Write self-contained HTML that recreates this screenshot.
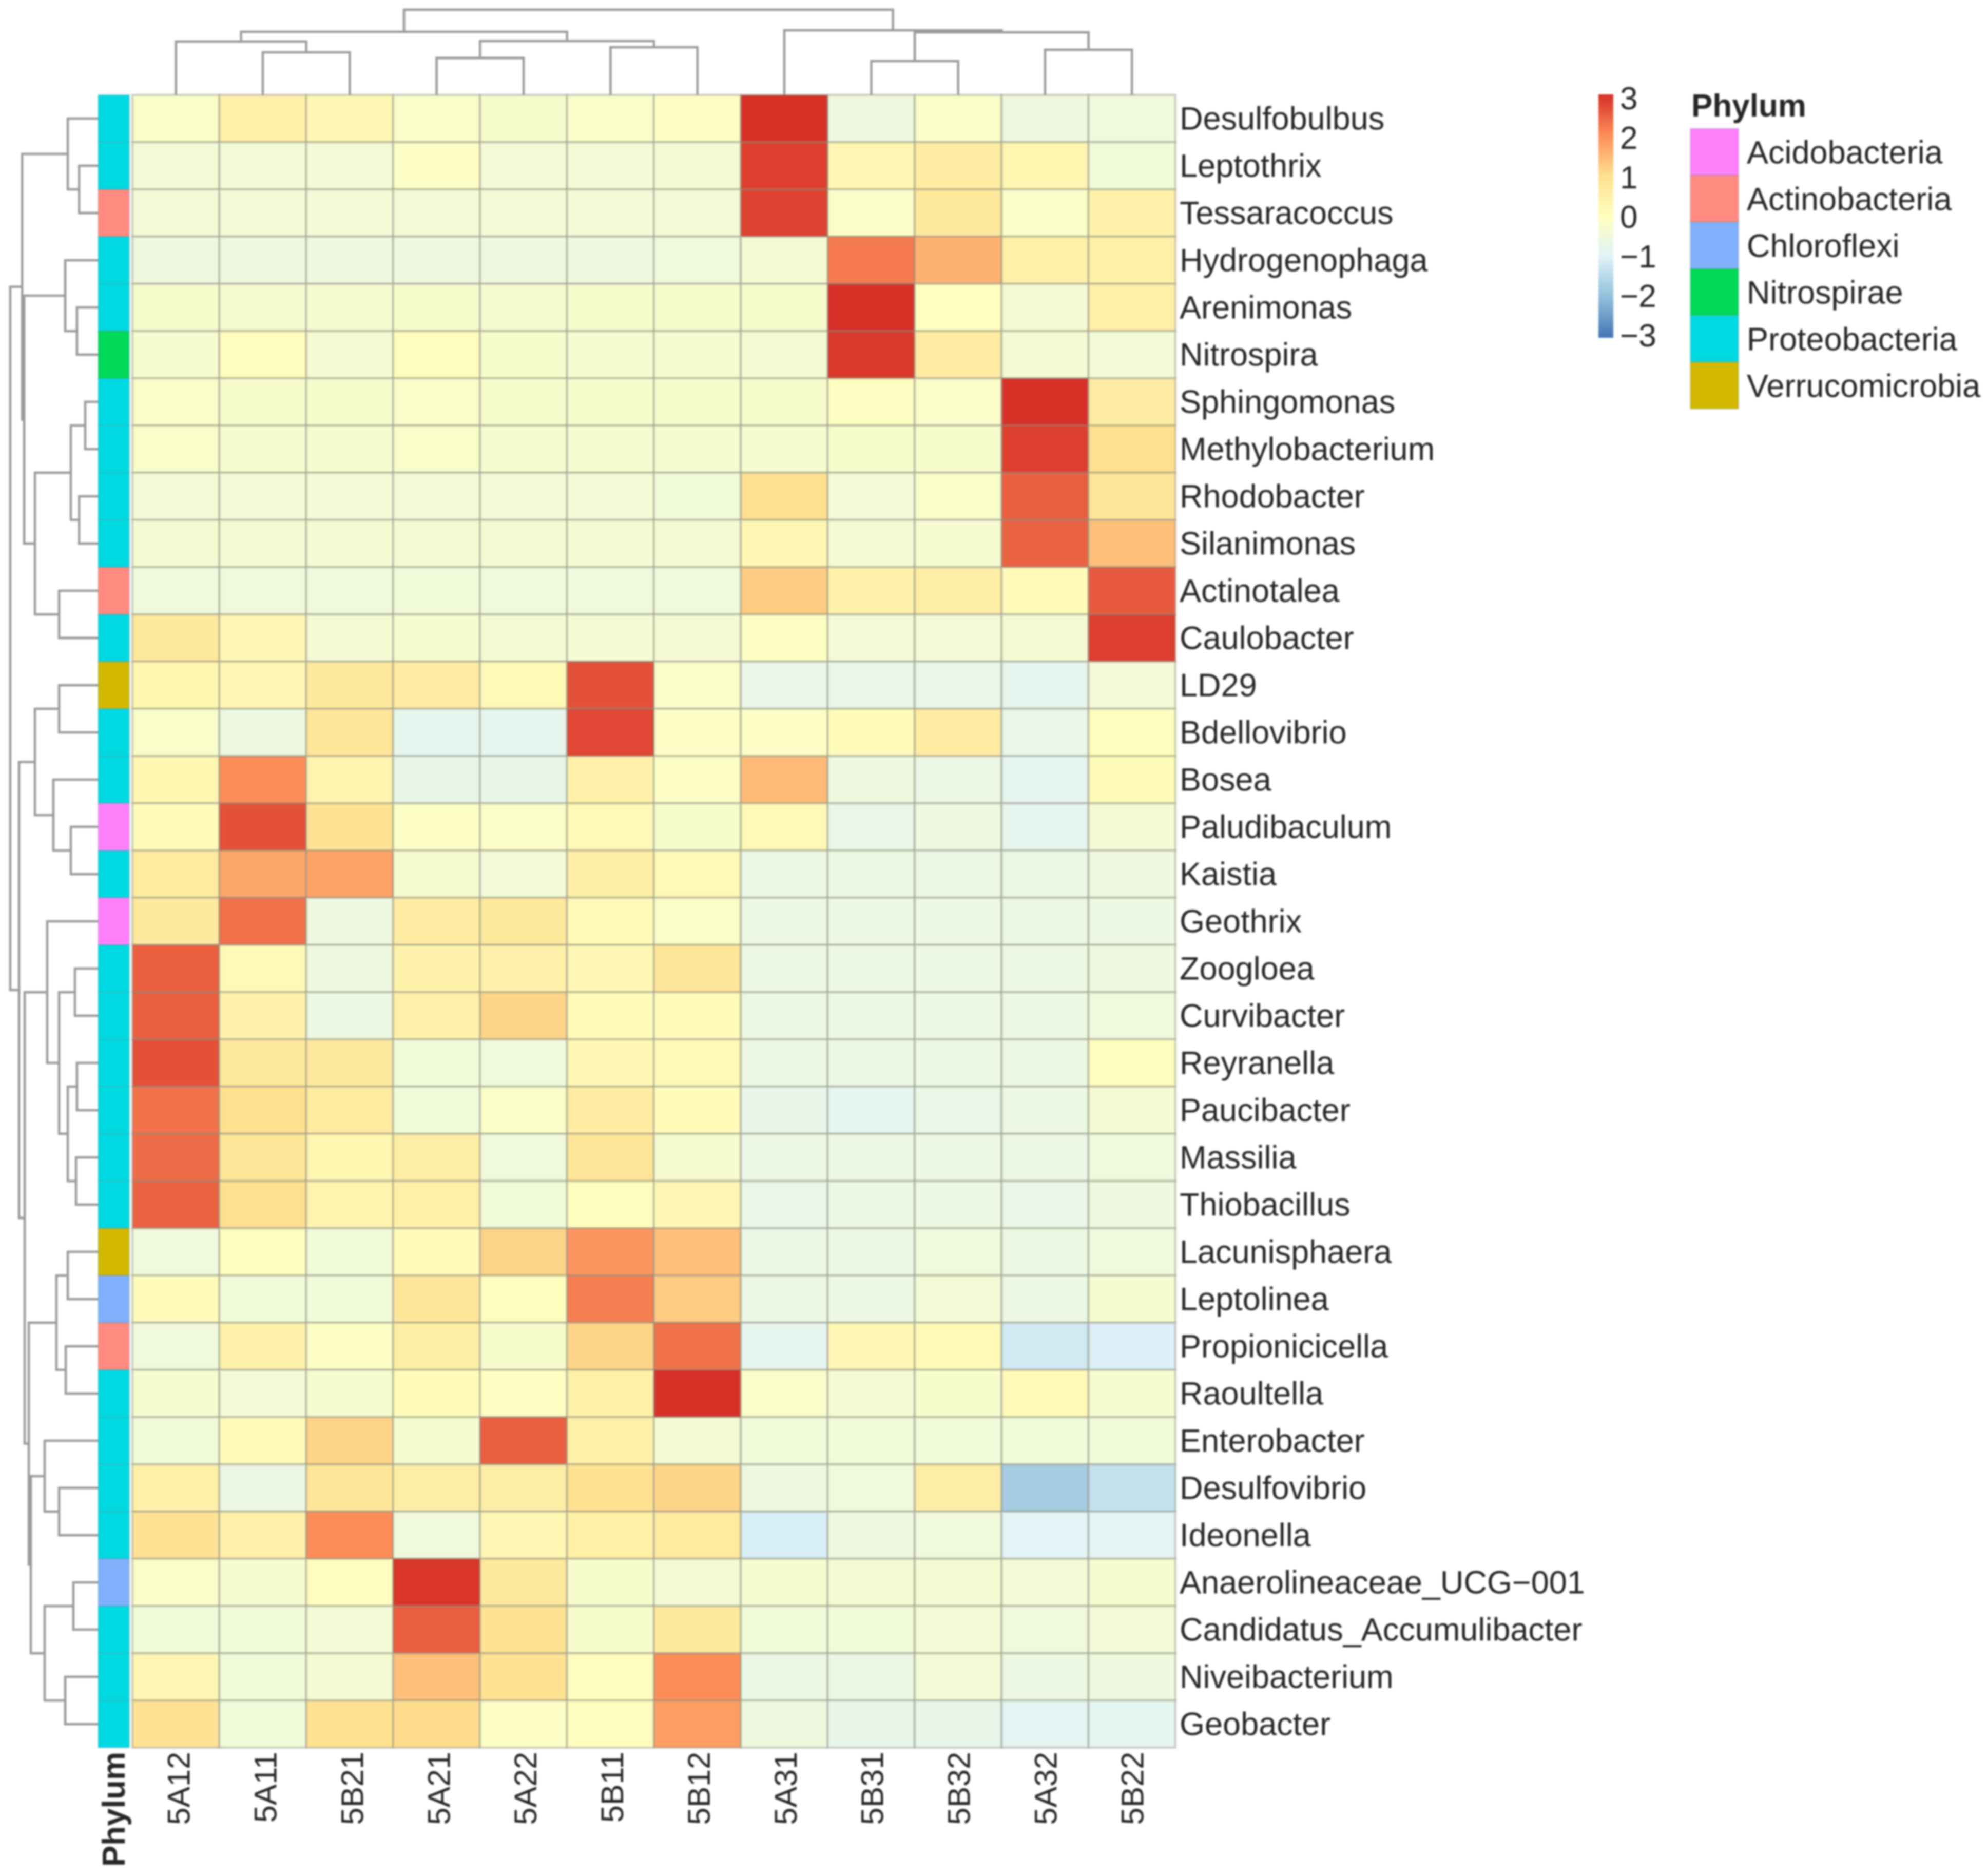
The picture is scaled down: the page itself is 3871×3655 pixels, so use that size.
<!DOCTYPE html>
<html lang="en">
<head>
<meta charset="utf-8">
<title>Genus abundance heatmap by phylum</title>
<style>
html,body{margin:0;padding:0;background:#fff;}
svg{display:block;filter:blur(1.5px);}
text{font-family:"Liberation Sans",Arial,sans-serif;fill:#262626;}
</style>
</head>
<body>
<svg id="chart" xmlns="http://www.w3.org/2000/svg" width="3871" height="3655" viewBox="0 0 3871 3655">
<defs>
<linearGradient id="scale-gradient" x1="0" y1="0" x2="0" y2="1"></linearGradient>
</defs>
<rect x="0" y="0" width="3871" height="3655" fill="#ffffff"/>
<g id="col-dendrogram"></g>
<g id="row-dendrogram"></g>
<g id="annotation"></g>
<g id="cells"></g>
<g id="row-labels"></g>
<g id="col-labels"></g>
<g id="colorbar"></g>
<g id="phylum-legend"></g>
</svg>
<script>
const samples = ["5A12","5A11","5B21","5A21","5A22","5B11","5B12","5A31","5B31","5B32","5A32","5B22"];
const taxa = ["Desulfobulbus","Leptothrix","Tessaracoccus","Hydrogenophaga","Arenimonas","Nitrospira","Sphingomonas","Methylobacterium","Rhodobacter","Silanimonas","Actinotalea","Caulobacter","LD29","Bdellovibrio","Bosea","Paludibaculum","Kaistia","Geothrix","Zoogloea","Curvibacter","Reyranella","Paucibacter","Massilia","Thiobacillus","Lacunisphaera","Leptolinea","Propionicicella","Raoultella","Enterobacter","Desulfovibrio","Ideonella","Anaerolineaceae_UCG\u2212001","Candidatus_Accumulibacter","Niveibacterium","Geobacter"];
const values = [
[-0.2,0.5,0.25,-0.2,-0.25,-0.2,-0.1,3.0,-0.55,-0.15,-0.55,-0.5],
[-0.4,-0.4,-0.4,-0.1,-0.4,-0.4,-0.35,2.85,0.25,0.6,0.3,-0.45],
[-0.4,-0.4,-0.4,-0.4,-0.4,-0.4,-0.4,2.8,-0.15,0.75,-0.15,0.45],
[-0.55,-0.55,-0.55,-0.55,-0.55,-0.55,-0.5,-0.35,2.2,1.55,0.5,0.5],
[-0.25,-0.3,-0.3,-0.25,-0.3,-0.25,-0.25,-0.25,3.0,0,-0.35,0.5],
[-0.3,0.05,-0.35,0.05,-0.25,-0.3,-0.3,-0.35,2.9,0.6,-0.35,-0.4],
[-0.2,-0.25,-0.25,-0.2,-0.25,-0.25,-0.25,-0.25,-0.05,-0.2,3.0,0.6],
[-0.2,-0.3,-0.3,-0.2,-0.3,-0.3,-0.3,-0.3,-0.25,-0.25,2.85,1.0],
[-0.4,-0.4,-0.4,-0.4,-0.4,-0.4,-0.45,1.0,-0.4,-0.2,2.5,0.8],
[-0.35,-0.35,-0.35,-0.35,-0.35,-0.35,-0.35,0.25,-0.35,-0.3,2.45,1.4],
[-0.5,-0.5,-0.5,-0.45,-0.5,-0.5,-0.5,1.25,0.4,0.55,0.1,2.55],
[0.75,0.25,-0.35,-0.3,-0.35,-0.35,-0.35,-0.05,-0.4,-0.4,-0.35,2.85],
[0.3,0.25,0.7,0.6,0.2,2.65,-0.15,-0.7,-0.7,-0.7,-0.8,-0.4],
[-0.2,-0.55,0.85,-0.8,-0.8,2.75,-0.1,-0.1,0.1,0.6,-0.7,0.05],
[0.3,2.0,0.35,-0.75,-0.75,0.45,-0.1,1.45,-0.55,-0.65,-0.85,0.1],
[0.1,2.65,0.9,-0.1,-0.15,0.2,-0.25,0.2,-0.7,-0.55,-0.8,-0.35],
[0.65,1.7,1.75,-0.3,-0.4,0.55,0.2,-0.65,-0.6,-0.65,-0.65,-0.55],
[0.7,2.3,-0.55,0.6,0.75,0.15,-0.15,-0.6,-0.6,-0.6,-0.65,-0.6],
[2.5,0.2,-0.55,0.4,0.45,0.25,0.8,-0.6,-0.6,-0.6,-0.6,-0.55],
[2.5,0.4,-0.6,0.45,1.15,0.1,0.1,-0.6,-0.6,-0.6,-0.6,-0.5],
[2.65,0.75,0.7,-0.45,-0.5,0.25,0.2,-0.6,-0.6,-0.6,-0.6,0.05],
[2.3,1.0,0.65,-0.45,-0.15,0.6,0.1,-0.75,-0.82,-0.7,-0.6,-0.35],
[2.35,0.8,0.3,0.55,-0.5,0.85,-0.3,-0.65,-0.6,-0.6,-0.65,-0.5],
[2.45,1.0,0.35,0.5,-0.45,0.05,0.25,-0.72,-0.6,-0.6,-0.68,-0.55],
[-0.5,0.05,-0.45,0.1,1.15,1.9,1.4,-0.65,-0.6,-0.5,-0.6,-0.5],
[0.1,-0.45,-0.45,0.8,0.05,2.15,1.25,-0.65,-0.6,-0.4,-0.62,-0.3],
[-0.5,0.4,-0.1,0.55,-0.25,1.15,2.3,-0.8,0.25,0.15,-1.2,-1.05],
[-0.3,-0.4,-0.3,0.1,-0.05,0.5,3.0,-0.2,-0.35,-0.25,0.15,-0.3],
[-0.45,0.1,1.15,-0.3,2.5,0.5,-0.35,-0.45,-0.45,-0.45,-0.45,-0.45],
[0.5,-0.65,0.8,0.55,0.55,0.95,1.15,-0.55,-0.5,0.55,-1.75,-1.35],
[0.9,0.45,2.0,-0.5,0.25,0.5,0.65,-1.1,-0.55,-0.5,-0.95,-0.9],
[-0.15,-0.3,0.05,2.95,0.75,-0.25,-0.35,-0.3,-0.35,-0.35,-0.4,-0.3],
[-0.45,-0.45,-0.4,2.5,0.9,-0.25,0.7,-0.45,-0.45,-0.4,-0.5,-0.4],
[0.25,-0.45,-0.35,1.4,0.95,0.05,2.0,-0.65,-0.65,-0.4,-0.6,-0.55],
[0.9,-0.45,0.95,1.05,-0.1,0.05,1.8,-0.55,-0.75,-0.75,-0.9,-0.85]
];
const phylumNames = ["Acidobacteria","Actinobacteria","Chloroflexi","Nitrospirae","Proteobacteria","Verrucomicrobia"];
const phylumColors = ["#ff80fb","#ff8a80","#80b0fc","#00d858","#00d9e2","#d2b800"];
const rowPhylum = [4,4,1,4,4,3,4,4,4,4,1,4,5,4,4,0,4,0,4,4,4,4,4,4,5,2,1,4,4,4,4,2,4,4,4];
const scaleTicks = [3,2,1,0,-1,-2,-3];
const rampValues = [-3,-2,-1,0,1,2,3];
const rampColors = [[69,117,180],[145,191,219],[224,243,248],[255,255,191],[254,224,144],[252,141,89],[215,48,39]];
const colTree = [10,[7.41,[6.27,0,[5.0,1,2]],[6.33,[4.34,3,4],[5.6,5,6]]],[7.59,7,[7.35,[3.98,8,9],[5.3,10,11]]]];
const rowTree = [10,
 [8.65,[3.45,0,[2.16,1,2]],[8.42,[3.74,3,[2.40,4,5]],[7.19,[3.10,[1.46,6,7],[2.16,8,9]],[4.44,10,11]]]],
 [9.0,[7.19,[4.44,12,13],[5.09,14,[3.10,15,16]]],
  [8.36,[5.79,17,[4.44,[2.63,18,19],[3.45,[2.40,20,21],[2.51,22,23]]]],
   [7.89,[4.74,[3.45,24,25],[3.68,26,27]],[7.66,[6.08,28,[4.44,29,30]],[6.08,[2.81,31,32],[3.74,33,34]]]]]]];

const NS = "http://www.w3.org/2000/svg";
const heatLeft = 258, heatTop = 185, cellW = 169.33, cellH = 92;
const colX = j => heatLeft + cellW * j;
const rowY = i => heatTop + cellH * i;
const colCenter = j => colX(j + 0.5);
const rowCenter = i => rowY(i + 0.5);
const colDendY = h => heatTop - h * 16.6;
const rowDendX = h => 191 - h * 17.1;
const scaleLabelY = v => 421 - v * 77;

function colorFor(v) {
  const c = Math.max(rampValues[0], Math.min(rampValues[rampValues.length - 1], v));
  let k = 0;
  while (k < rampValues.length - 2 && c > rampValues[k + 1]) k++;
  const t = (c - rampValues[k]) / (rampValues[k + 1] - rampValues[k]);
  const m = rampColors[k].map((a, n) => Math.round(a + (rampColors[k + 1][n] - a) * t));
  return "rgb(" + m.join(",") + ")";
}
function make(parentId, tag, props, content) {
  const el = document.createElementNS(NS, tag);
  for (const key in props) el.setAttribute(key, props[key]);
  if (content !== undefined) el.textContent = content;
  document.getElementById(parentId).appendChild(el);
  return el;
}

// heat cells
values.forEach((row, i) => row.forEach((v, j) => {
  const el = make("cells", "rect", {x: colX(j), y: rowY(i), width: cellW, height: cellH, fill: colorFor(v), stroke: "#8d8d80", "stroke-opacity": 0.42, "stroke-width": 4});
  
  
}));

// annotation column
rowPhylum.forEach((p, i) => {
  const el = make("annotation", "rect", {x: 191, y: rowY(i), width: 61, height: cellH, fill: phylumColors[p], stroke: "#70908f", "stroke-opacity": 0.2, "stroke-width": 3});
  
  
});

// dendrograms
function drawCol(node) {
  if (typeof node === "number") return {pos: colCenter(node), h: 0};
  const a = drawCol(node[1]), b = drawCol(node[2]);
  const y = colDendY(node[0]);
  const el = make("col-dendrogram", "path", {d: "M" + a.pos + " " + colDendY(a.h) + "V" + y + "H" + b.pos + "V" + colDendY(b.h), fill: "none", stroke: "#9a9a9a", "stroke-width": 4.5});
  
  
  return {pos: (a.pos + b.pos) / 2, h: node[0]};
}
function drawRow(node) {
  if (typeof node === "number") return {pos: rowCenter(node), h: 0};
  const a = drawRow(node[1]), b = drawRow(node[2]);
  const x = rowDendX(node[0]);
  const el = make("row-dendrogram", "path", {d: "M" + rowDendX(a.h) + " " + a.pos + "H" + x + "V" + b.pos + "H" + rowDendX(b.h), fill: "none", stroke: "#9a9a9a", "stroke-width": 4.5});
  
  
  return {pos: (a.pos + b.pos) / 2, h: node[0]};
}
drawCol(colTree);
drawRow(rowTree);

// row labels
taxa.forEach((name, i) => {
  const el = make("row-labels", "text", {x: 2298, y: rowCenter(i) + 21.5, "font-size": 63}, name);
  
  
});

// column labels
samples.forEach((name, j) => {
  const bx = colCenter(j) + 27 - 0.45 * j;
  const el = make("col-labels", "text", {x: bx, y: 3413, "font-size": 61, "text-anchor": "end", transform: "rotate(-90 " + bx + " 3413)"}, name);
  
  
});
const annTitle = make("col-labels", "text", {x: 243, y: 3413, "font-size": 62, "font-weight": "bold", "text-anchor": "end", fill: "#111", transform: "rotate(-90 243 3413)"}, "Phylum");



// colour scale
const grad = document.getElementById("scale-gradient");
const rampTop = rampValues[rampValues.length - 1];
const rampBottom = rampValues[0];
[...rampValues].reverse().forEach(v => {
  const stop = document.createElementNS(NS, "stop");
  stop.setAttribute("offset", (rampTop - v) / (rampTop - rampBottom));
  stop.setAttribute("stop-color", colorFor(v));
  grad.appendChild(stop);
});
const bar = make("colorbar", "rect", {x: 3114, y: 184, width: 29, height: 474, fill: "url(#scale-gradient)"});


scaleTicks.forEach(v => {
  const el = make("colorbar", "text", {x: 3156, y: scaleLabelY(v) + 23, "font-size": 62}, v < 0 ? "\u2212" + Math.abs(v) : String(v));
  
  
});

// phylum legend
const legTitle = make("phylum-legend", "text", {x: 3295, y: 227, "font-size": 62, "font-weight": "bold", fill: "#111"}, "Phylum");


phylumNames.forEach((name, k) => {
  const swatch = make("phylum-legend", "rect", {x: 3293, y: 250.5 + 91 * k, width: 94, height: 91, fill: phylumColors[k], stroke: "#70908f", "stroke-opacity": 0.2, "stroke-width": 3});
  
  
  const label = make("phylum-legend", "text", {x: 3403, y: 318.5 + 91 * k, "font-size": 63}, name);
  
  
});
</script>
</body>
</html>
